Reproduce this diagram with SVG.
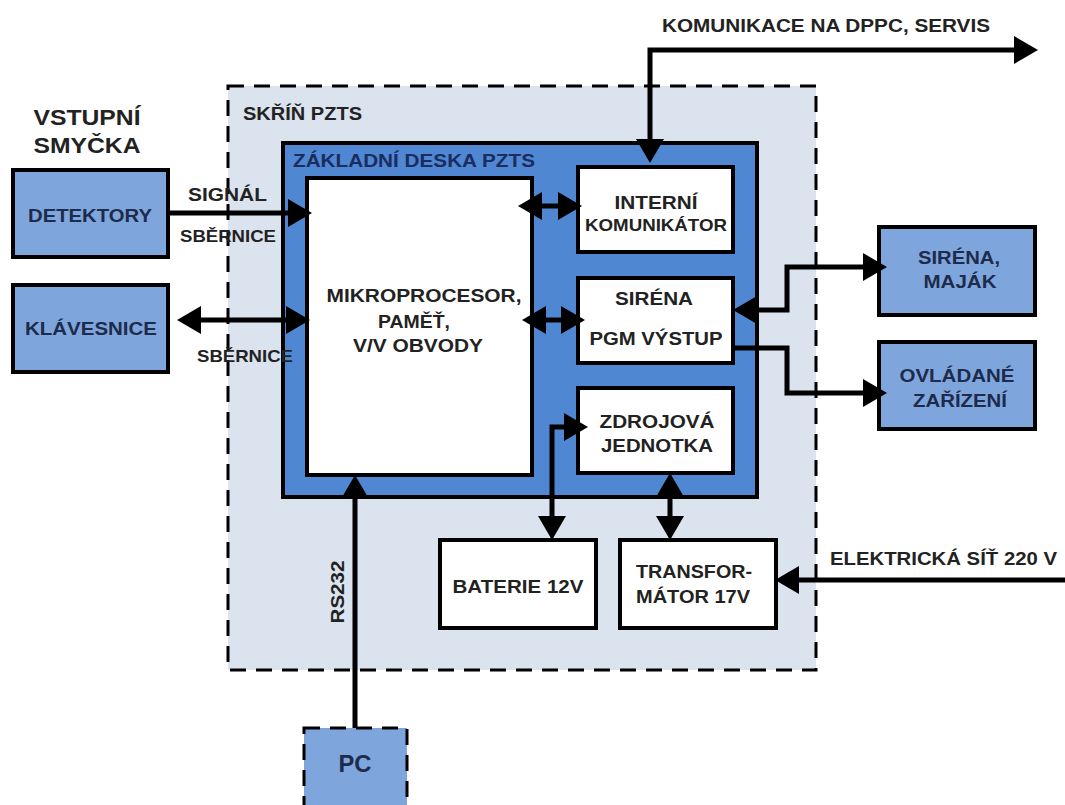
<svg xmlns="http://www.w3.org/2000/svg" width="1065" height="805" viewBox="0 0 1065 805">
<style>
text{font-family:"Liberation Sans",Arial,"DejaVu Sans",sans-serif;font-weight:bold;fill:#222;}
.c{text-anchor:middle;}
.n{fill:#1d2b4c;}
.box{stroke:#000;stroke-width:4;}
.blue{fill:#7fa6dc;}
.white{fill:#fff;}
.dash{stroke:#000;stroke-width:3;stroke-dasharray:16 10;}
.conn path{fill:none;stroke:#000;stroke-width:5;stroke-linejoin:miter;}
.a2{marker-start:url(#ah);marker-end:url(#ah);}
.a1{marker-end:url(#ah);}
</style>
<defs>
<marker id="ah" viewBox="0 0 24 28" markerWidth="24" markerHeight="28" markerUnits="userSpaceOnUse" refX="2" refY="14" orient="auto-start-reverse">
<path d="M0,0 L24,14 L0,28 Z" fill="#000"/>
</marker>
</defs>
<rect width="1065" height="805" fill="#fff"/>

<g id="skrin">
<rect x="228" y="86" width="588" height="584" fill="#dbe3ef" class="dash"/>
<text x="243" y="120" font-size="18" textLength="119" lengthAdjust="spacingAndGlyphs">SKŘÍŇ PZTS</text>
</g>
<g id="deska">
<rect x="283" y="143" width="474" height="354" fill="#4f87d2" class="box"/>
<text x="293" y="167" font-size="18" textLength="242" lengthAdjust="spacingAndGlyphs" style="fill:#1b2d5e">ZÁKLADNÍ DESKA PZTS</text>
</g>
<g id="mikroprocesor">
<rect x="307" y="178" width="225" height="297" class="box white"/>
<text class="c" x="424" y="302" font-size="18" textLength="195" lengthAdjust="spacingAndGlyphs">MIKROPROCESOR,</text>
<text class="c" x="414" y="328" font-size="18" textLength="72" lengthAdjust="spacingAndGlyphs">PAMĚŤ,</text>
<text class="c" x="418" y="352" font-size="18" textLength="130" lengthAdjust="spacingAndGlyphs">V/V OBVODY</text>
</g>
<g id="interni">
<rect x="578" y="167" width="155" height="85" class="box white"/>
<text class="c" x="656" y="209" font-size="18" textLength="83" lengthAdjust="spacingAndGlyphs">INTERNÍ</text>
<text class="c" x="656" y="231" font-size="17" textLength="142" lengthAdjust="spacingAndGlyphs">KOMUNIKÁTOR</text>
</g>
<g id="sirena-pgm">
<rect x="578" y="278" width="155" height="85" class="box white"/>
<text class="c" x="654" y="305" font-size="18" textLength="78" lengthAdjust="spacingAndGlyphs">SIRÉNA</text>
<text class="c" x="656" y="345" font-size="18" textLength="133" lengthAdjust="spacingAndGlyphs">PGM VÝSTUP</text>
</g>
<g id="zdroj">
<rect x="578" y="388" width="155" height="85" class="box white"/>
<text class="c" x="657" y="428" font-size="18" textLength="115" lengthAdjust="spacingAndGlyphs">ZDROJOVÁ</text>
<text class="c" x="657" y="452" font-size="18" textLength="112" lengthAdjust="spacingAndGlyphs">JEDNOTKA</text>
</g>
<g id="baterie">
<rect x="440" y="540" width="156" height="88" class="box white"/>
<text class="c" x="518" y="593" font-size="18" textLength="131" lengthAdjust="spacingAndGlyphs">BATERIE 12V</text>
</g>
<g id="transformator">
<rect x="620" y="540" width="156" height="88" class="box white"/>
<text class="c" x="694" y="578" font-size="18" textLength="116" lengthAdjust="spacingAndGlyphs">TRANSFOR-</text>
<text class="c" x="693" y="603" font-size="18" textLength="114" lengthAdjust="spacingAndGlyphs">MÁTOR 17V</text>
</g>
<g id="detektory">
<rect x="13" y="170" width="155" height="87" class="box blue"/>
<text class="c n" x="90" y="222" font-size="18" textLength="124" lengthAdjust="spacingAndGlyphs">DETEKTORY</text>
</g>
<g id="klavesnice">
<rect x="13" y="285" width="155" height="87" class="box blue"/>
<text class="c n" x="91" y="335" font-size="18" textLength="132" lengthAdjust="spacingAndGlyphs">KLÁVESNICE</text>
</g>
<g id="sirena-majak">
<rect x="879" y="227" width="156" height="88" class="box blue"/>
<text class="c n" x="959" y="264" font-size="18" textLength="82" lengthAdjust="spacingAndGlyphs">SIRÉNA,</text>
<text class="c n" x="960" y="288" font-size="18" textLength="73" lengthAdjust="spacingAndGlyphs">MAJÁK</text>
</g>
<g id="ovladane">
<rect x="879" y="342" width="156" height="87" class="box blue"/>
<text class="c n" x="957" y="382" font-size="18" textLength="115" lengthAdjust="spacingAndGlyphs">OVLÁDANÉ</text>
<text class="c n" x="960" y="407" font-size="18" textLength="94" lengthAdjust="spacingAndGlyphs">ZAŘÍZENÍ</text>
</g>
<g id="pc">
<rect x="304" y="728" width="103" height="95" class="blue dash"/>
<text class="c n" x="355" y="772" font-size="24" textLength="33" lengthAdjust="spacingAndGlyphs">PC</text>
</g>
<g id="labels">
<text class="c" x="87" y="125" font-size="22" textLength="107" lengthAdjust="spacingAndGlyphs">VSTUPNÍ</text>
<text class="c" x="87" y="153" font-size="22" textLength="107" lengthAdjust="spacingAndGlyphs">SMYČKA</text>
<text x="662" y="32" font-size="18" textLength="328" lengthAdjust="spacingAndGlyphs">KOMUNIKACE NA DPPC, SERVIS</text>
<text x="188" y="201" font-size="18" textLength="79" lengthAdjust="spacingAndGlyphs">SIGNÁL</text>
<text x="180" y="242" font-size="17" textLength="96" lengthAdjust="spacingAndGlyphs">SBĚRNICE</text>
<text x="197" y="362" font-size="17" textLength="96" lengthAdjust="spacingAndGlyphs">SBĚRNICE</text>
<text x="830" y="565" font-size="18" textLength="227" lengthAdjust="spacingAndGlyphs">ELEKTRICKÁ SÍŤ 220 V</text>
<text class="c" transform="translate(344,592) rotate(-90)" font-size="18" textLength="63" lengthAdjust="spacingAndGlyphs">RS232</text>
</g>

<g id="connectors" class="conn">
<path class="a1" d="M168,213 H290"/>
<path class="a2" d="M199,320 H288"/>
<path class="a2" d="M540,206 H560"/>
<path class="a2" d="M544,320 H563"/>
<path class="a2" d="M650,141 V50 H1016"/>
<path class="a2" d="M755,310 H787 V267 H865"/>
<path class="a1" d="M733,348 H787 V393 H865"/>
<path class="a2" d="M566,427 H552 V518"/>
<path class="a2" d="M670,495 V518"/>
<path class="a1" d="M355,728 V497"/>
<path class="a1" d="M1065,580 H797"/>
</g>
</svg>
